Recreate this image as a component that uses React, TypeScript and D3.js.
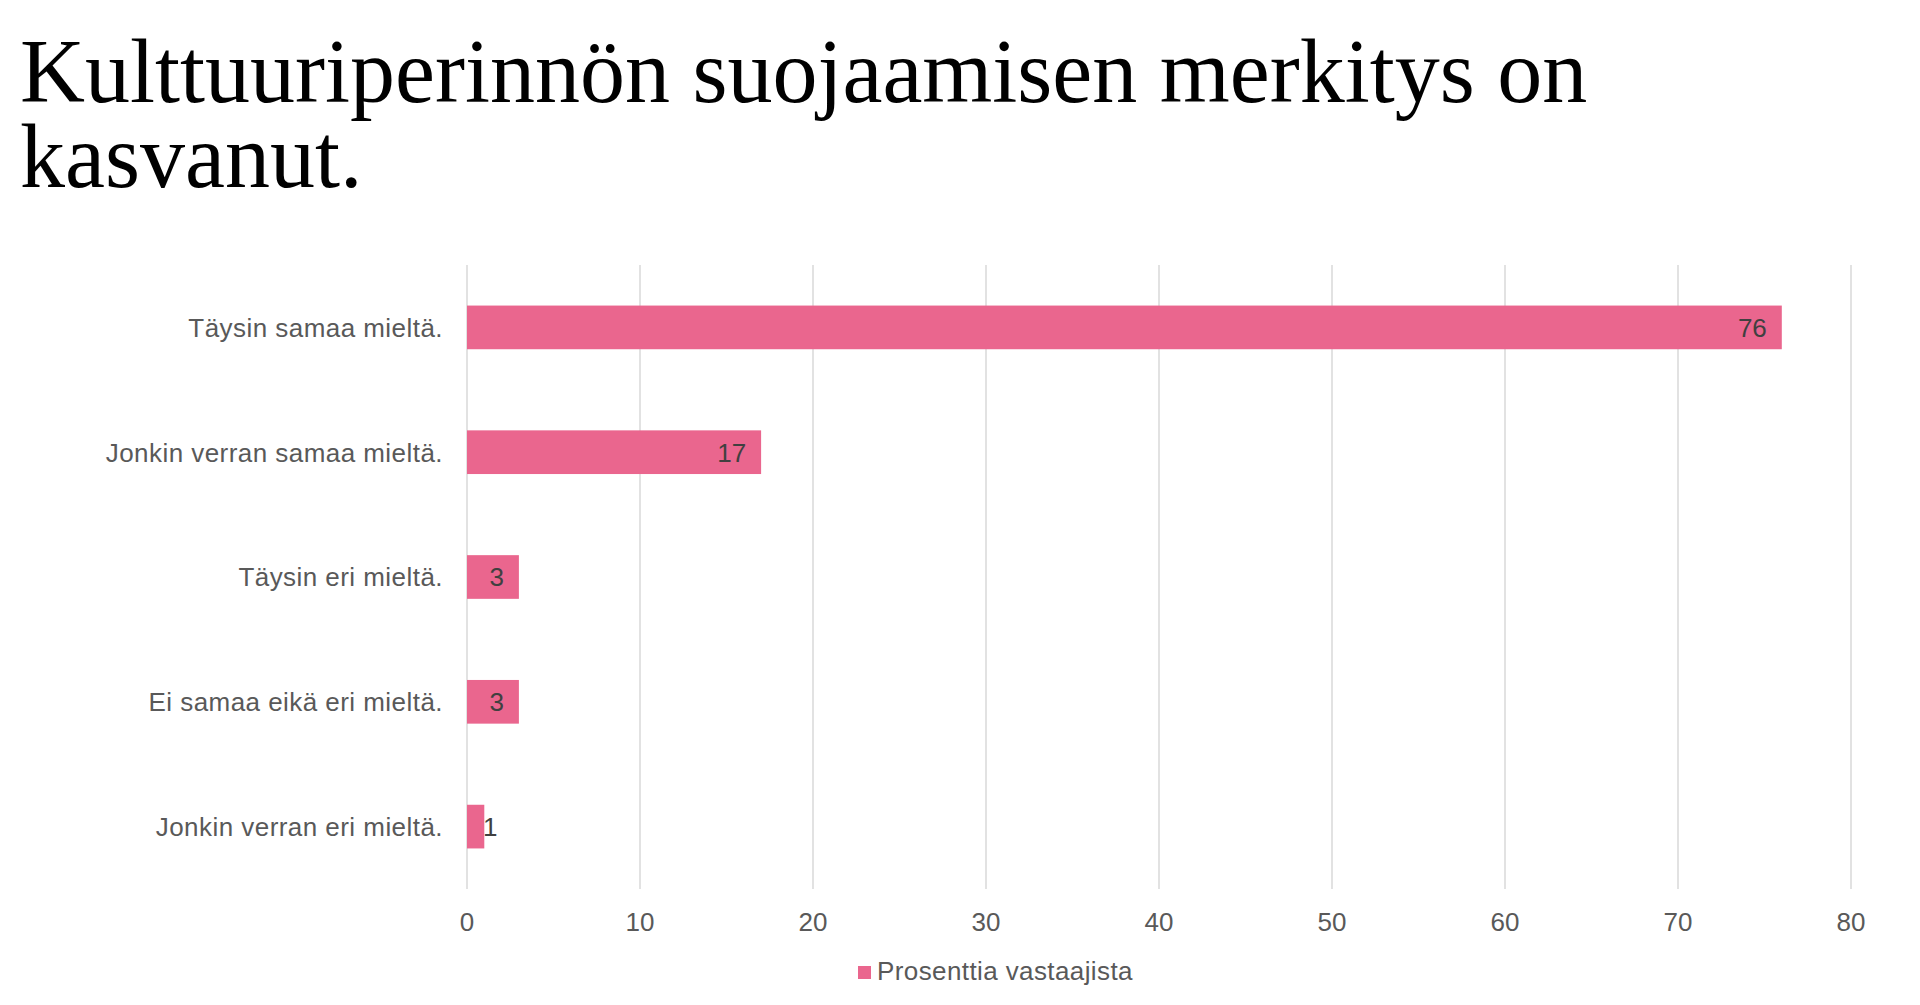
import { useMemo } from 'react';
import * as d3 from 'd3';

const titleLines = ['Kulttuuriperinnön suojaamisen merkitys on', 'kasvanut.'];
const categories = [
  'Täysin samaa mieltä.',
  'Jonkin verran samaa mieltä.',
  'Täysin eri mieltä.',
  'Ei samaa eikä eri mieltä.',
  'Jonkin verran eri mieltä.',
];
const values = [76, 17, 3, 3, 1];
const xTicks = [0, 10, 20, 30, 40, 50, 60, 70, 80];
const seriesName = 'Prosenttia vastaajista';

const W = 1920;
const H = 1005;
const BAR = '#EA668E';
const TEXT = '#595959';
const GRID = '#D9D9D9';
const SANS = '"Liberation Sans", Arial, sans-serif';

export default function App() {
  const x = useMemo(() => d3.scaleLinear().domain([0, 80]).range([467, 1851]), []);
  const y = useMemo(
    () => d3.scaleBand().domain(categories).range([265, 889]).paddingInner(0.65).paddingOuter(0.325),
    []
  );
  const fs = 26;

  return (
    <div style={{ position: 'absolute', left: 0, top: 0 }}>
      <svg width={W} height={H} style={{ display: 'block', background: '#fff' }}>
        {/* title, two lines in one text */}
        <text x={20} y={102} fontFamily='"Liberation Serif", "DejaVu Serif", serif' fontSize={90} fill="#000">
          {titleLines.map((t, i) => (
            <tspan key={t} x={20} dy={i === 0 ? 0 : 85}>{t}</tspan>
          ))}
        </text>

        {/* gridlines */}
        {xTicks.map((t) => (
          <line key={t} x1={x(t)} x2={x(t)} y1={265} y2={889} stroke={GRID} strokeWidth={1.5} />
        ))}

        {/* bars + labels */}
        {categories.map((c, i) => {
          const x0 = x(0);
          const x1 = x(values[i]);
          const yy = y(c) ?? 0;
          const bw = y.bandwidth();
          const label = String(values[i]);
          const tw = label.length * 0.556 * fs;
          const lx = Math.max(x1 - 15, x0 + 16 + tw);
          return (
            <g key={c}>
              <rect x={x0} y={yy} width={x1 - x0} height={bw} fill={BAR} />
              <text x={lx} y={yy + bw / 2} dy="0.36em" textAnchor="end" fontFamily={SANS}
                fontSize={fs} fill="#404040">{label}</text>
              <text x={443} y={yy + bw / 2} dy="0.36em" textAnchor="end" fontFamily={SANS}
                fontSize={fs} letterSpacing={0.45} fill={TEXT}>{c}</text>
            </g>
          );
        })}

        {/* x tick labels */}
        {xTicks.map((t) => (
          <text key={t} x={x(t)} y={922} dy="0.36em" textAnchor="middle" fontFamily={SANS}
            fontSize={fs} fill={TEXT}>{t}</text>
        ))}

        {/* legend */}
        <rect x={858} y={966} width={13} height={13} fill={BAR} />
        <text x={877} y={980} fontFamily={SANS} fontSize={fs} letterSpacing={0.4} fill={TEXT}>{seriesName}</text>
      </svg>
    </div>
  );
}
